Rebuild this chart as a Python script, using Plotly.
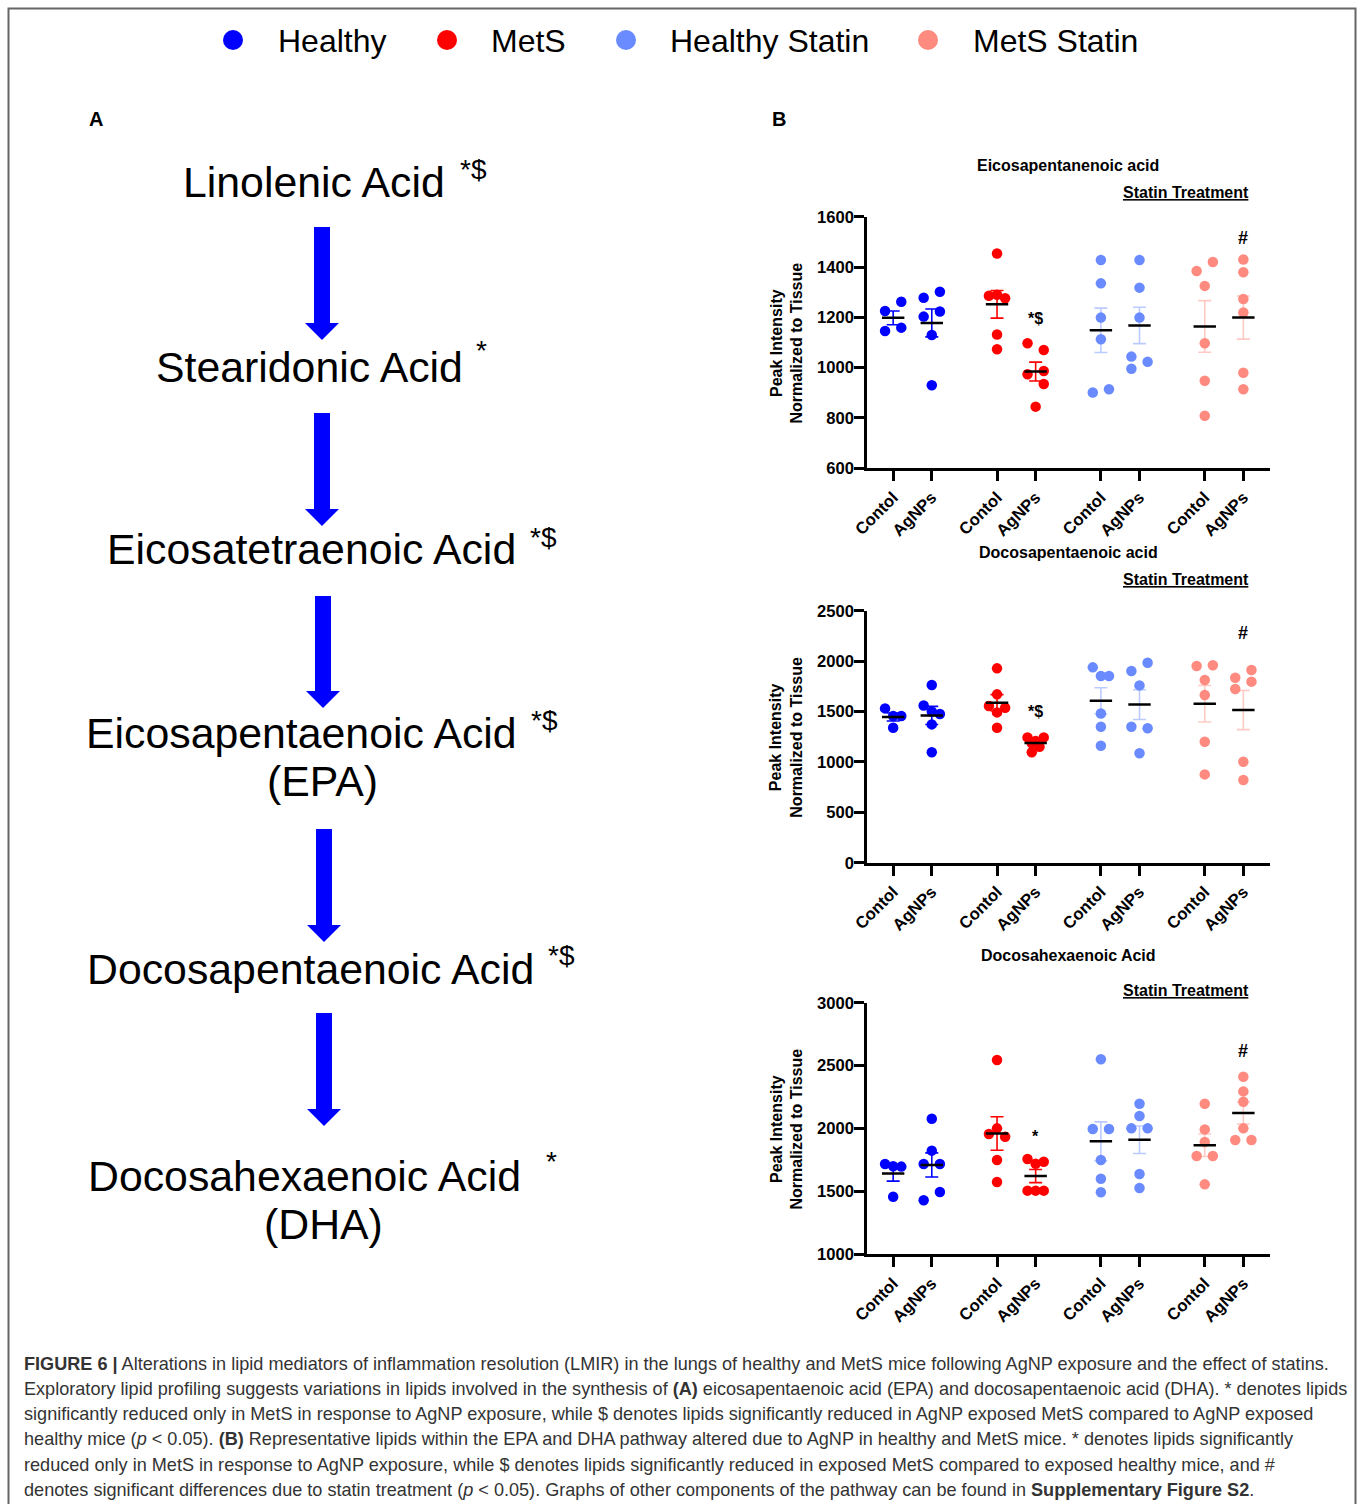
import numpy as np
import plotly.graph_objects as go

W, H = 1360, 1504
FONT = "Liberation Sans, Arial, sans-serif"

# ---------------- data ----------------
series_names = ["Healthy", "MetS", "Healthy Statin", "MetS Statin"]
series_colors = ["#0000FF", "#FF0000", "#6A8BFF", "#FF8A7F"]
errbar_colors = ["#0000FF", "#FF0000", "rgba(106,139,255,0.45)", "rgba(255,138,127,0.45)"]
group_series = [0, 0, 1, 1, 2, 2, 3, 3]
tick_labels = ["Contol", "AgNPs", "Contol", "AgNPs", "Contol", "AgNPs", "Contol", "AgNPs"]

epa_values = [
    [1225, 1262, 1146, 1159],
    [1278, 1302, 1203, 1223, 1130, 930],
    [1454, 1286, 1290, 1276, 1132, 1073],
    [1097, 1070, 987, 974, 935, 845],
    [1428, 1335, 1199, 1113, 901, 914],
    [1428, 1318, 1199, 1044, 996, 1023],
    [1384, 1420, 1325, 1097, 948, 809],
    [1430, 1379, 1273, 1219, 980, 914],
]
dpa_values = [
    [1531, 1455, 1455, 1339],
    [1763, 1560, 1500, 1475, 1372, 1095],
    [1928, 1670, 1554, 1538, 1491, 1339],
    [1243, 1243, 1207, 1184, 1151, 1095],
    [1938, 1852, 1852, 1481, 1349, 1161],
    [1901, 1984, 1759, 1349, 1333, 1085],
    [1951, 1958, 1812, 1663, 1200, 876],
    [1911, 1835, 1796, 1723, 1002, 820],
]
dha_values = [
    [1718, 1700, 1697, 1458],
    [2078, 1824, 1718, 1718, 1495, 1429],
    [2544, 2001, 1956, 1935, 1750, 1575],
    [1758, 1736, 1720, 1506, 1506, 1506],
    [2550, 1996, 1996, 1750, 1601, 1493],
    [2197, 2099, 2001, 2001, 1638, 1527],
    [2197, 1993, 1893, 1781, 1781, 1556],
    [2412, 2295, 2213, 2001, 1909, 1909],
]

# ---------------- positions / styles ----------------
group_x = [0, 1, 2.69, 3.69, 5.38, 6.38, 8.07, 9.07]
J = 0.21
epa_offsets = [
    [-J, J, -J, J],
    [-J, J, -J, J, 0, 0],
    [0, -J, 0, J, 0, 0],
    [-J, J, J, -J, J, 0],
    [0, 0, 0, 0, -J, J],
    [0, 0, 0, -J, -J, J],
    [-J, J, 0, 0, 0, 0],
    [0, 0, 0, 0, 0, 0],
]
dpa_offsets = [
    [-J, 0, J, 0],
    [0, -J, 0, J, 0, 0],
    [0, 0, -J, J, 0, 0],
    [-J, J, 0, -0.1, 0.1, -0.1],
    [-J, 0, J, 0, 0, 0],
    [-J, J, 0, -J, J, 0],
    [-J, J, 0, 0, 0, 0],
    [J, -J, J, -J, 0, 0],
]
dha_offsets = [
    [-J, 0, J, 0],
    [0, 0, -J, J, J, -J],
    [0, 0, -J, J, 0, 0],
    [-J, J, 0, -J, 0, J],
    [0, -J, J, 0, 0, 0],
    [0, 0, -J, J, 0, 0],
    [0, 0, 0, -J, J, 0],
    [0, 0, 0, 0, -J, J],
]


def px(x):
    return x / W


def py(y):
    return 1 - y / H


panels = [
    dict(title="Eicosapentanenoic acid", values=epa_values, offsets=epa_offsets,
         yrange=[600, 1600], dtick=200, top=216.7, bottom=468.3, title_y=165, statin_y=193,
         marks=[("#", 9.07, 1514, 18), ("*$", 3.69, 1196, 16)]),
    dict(title="Docosapentaenoic acid", values=dpa_values, offsets=dpa_offsets,
         yrange=[0, 2500], dtick=500, top=610.7, bottom=862.7, title_y=552, statin_y=579,
         marks=[("#", 9.07, 2275, 18), ("*$", 3.69, 1498, 16)]),
    dict(title="Docosahexaenoic Acid", values=dha_values, offsets=dha_offsets,
         yrange=[1000, 3000], dtick=500, top=1002.7, bottom=1254.3, title_y=956, statin_y=990,
         marks=[("#", 9.07, 2616, 18), ("*", 3.69, 1935, 16)]),
]

X_LEFT, X_RIGHT = 867.3, 1270
fig = go.Figure()
annotations = []
shapes = []
layout_axes = {}

for i, p in enumerate(panels):
    n = "" if i == 0 else str(i + 1)
    xa, ya = "x" + n, "y" + n
    # points
    for g in range(8):
        s = group_series[g]
        vals = np.array(p["values"][g], dtype=float)
        xs = group_x[g] + np.array(p["offsets"][g])
        fig.add_trace(go.Scatter(
            x=xs, y=vals, mode="markers", xaxis=xa, yaxis=ya,
            marker=dict(size=10.5, color=series_colors[s], line=dict(width=0)),
            name=series_names[s], showlegend=False, cliponaxis=False,
            hoverinfo="y"))
    # error bars and mean lines
    for g in range(8):
        s = group_series[g]
        vals = np.array(p["values"][g], dtype=float)
        m = vals.mean()
        sem = vals.std(ddof=1) / np.sqrt(len(vals))
        fig.add_trace(go.Scatter(
            x=[group_x[g]], y=[m], mode="markers", xaxis=xa, yaxis=ya,
            marker=dict(size=1, color="rgba(0,0,0,0)"),
            error_y=dict(type="data", array=[sem], color=errbar_colors[s],
                         thickness=1.6, width=6.5),
            showlegend=False, hoverinfo="skip"))
        fig.add_trace(go.Scatter(
            x=[group_x[g] - 0.29, group_x[g] + 0.29], y=[m, m], mode="lines",
            xaxis=xa, yaxis=ya, line=dict(color="black", width=2.5),
            showlegend=False, hoverinfo="skip"))
    axstyle = dict(showline=True, linewidth=3, linecolor="black", ticks="outside",
                   ticklen=10, tickwidth=3, tickcolor="black", showgrid=False,
                   zeroline=False, automargin=False,
                   tickfont=dict(family=FONT, size=16.6, color="black", weight="bold"))
    layout_axes["xaxis" + n] = dict(
        domain=[px(X_LEFT), px(X_RIGHT)], range=[-0.67, 9.76], anchor=ya,
        tickmode="array", tickvals=group_x, ticktext=tick_labels, tickangle=-45, **axstyle)
    layout_axes["yaxis" + n] = dict(
        domain=[py(p["bottom"]), py(p["top"])], range=p["yrange"], dtick=p["dtick"],
        tick0=p["yrange"][0], anchor=xa, ticklabelstandoff=-3, **axstyle)
    # titles
    annotations.append(dict(text="<b>" + p["title"] + "</b>", x=px(1068), y=py(p["title_y"]),
                            xref="paper", yref="paper", showarrow=False,
                            font=dict(family=FONT, size=16, color="black"),
                            xanchor="center", yanchor="middle"))
    annotations.append(dict(text="<b><u>Statin Treatment</u></b>", x=px(1186), y=py(p["statin_y"]),
                            xref="paper", yref="paper", showarrow=False,
                            font=dict(family=FONT, size=16, color="black"),
                            xanchor="center", yanchor="middle"))
    annotations.append(dict(text="<b>Peak Intensity<br>Normalized to Tissue</b>", textangle=-90,
                            x=px(786), y=py((p["top"] + p["bottom"]) / 2),
                            xref="paper", yref="paper", showarrow=False,
                            font=dict(family=FONT, size=16, color="black"),
                            xanchor="center", yanchor="middle"))
    for txt, mx, my, fs in p["marks"]:
        annotations.append(dict(text="<b>" + txt + "</b>", x=mx, y=my, xref=xa, yref=ya,
                                showarrow=False, font=dict(family=FONT, size=fs, color="black"),
                                xanchor="center", yanchor="middle"))

# ---------------- panel A (pathway diagram) ----------------
pathway_labels = [
    ("Linolenic Acid", 314, 182, "*$", 473, 170),
    ("Stearidonic Acid", 309, 367, "*", 481, 350),
    ("Eicosatetraenoic Acid", 311, 549, "*$", 543, 537),
    ("Eicosapentaenoic Acid", 301, 733, "*$", 544, 720),
    ("(EPA)", 322, 781, "", 0, 0),
    ("Docosapentaenoic Acid", 310, 969, "*$", 561, 956),
    ("Docosahexaenoic Acid", 304, 1176, "*", 551, 1161),
    ("(DHA)", 323, 1224, "", 0, 0),
]
for lab, lx, ly, st, sx, sy in pathway_labels:
    annotations.append(dict(text=lab, x=px(lx), y=py(ly), xref="paper", yref="paper",
                            showarrow=False, font=dict(family=FONT, size=42.8, color="black"),
                            xanchor="center", yanchor="middle"))
    if st:
        annotations.append(dict(text=st, x=px(sx), y=py(sy), xref="paper", yref="paper",
                                showarrow=False, font=dict(family=FONT, size=28, color="black"),
                                xanchor="center", yanchor="middle"))

arrow_pos = [(322, 227, 340), (322, 413, 526), (323, 596, 708), (324, 829, 942), (324, 1013, 1126)]
for ax_, y0, y1 in arrow_pos:
    hw_shaft, hw_head, head_len = 8, 17, 17
    pts = [(ax_ - hw_shaft, y0), (ax_ + hw_shaft, y0), (ax_ + hw_shaft, y1 - head_len),
           (ax_ + hw_head, y1 - head_len), (ax_, y1), (ax_ - hw_head, y1 - head_len),
           (ax_ - hw_shaft, y1 - head_len)]
    path = "M " + " L ".join(f"{px(a):.5f},{py(b):.5f}" for a, b in pts) + " Z"
    shapes.append(dict(type="path", path=path, xref="paper", yref="paper",
                       fillcolor="#0000FF", line=dict(width=0)))

# panel letters
for letter, lx, ly in [("A", 96, 119), ("B", 779, 119)]:
    annotations.append(dict(text="<b>" + letter + "</b>", x=px(lx), y=py(ly), xref="paper",
                            yref="paper", showarrow=False,
                            font=dict(family=FONT, size=20, color="black"),
                            xanchor="center", yanchor="middle"))

# ---------------- legend (top) ----------------
legend_pos = [(233, 279), (447, 492), (626, 671), (928, 974)]
for k, (mx, tx) in enumerate(legend_pos):
    shapes.append(dict(type="circle", xref="paper", yref="paper",
                       x0=px(mx - 10), x1=px(mx + 10), y0=py(50), y1=py(30),
                       fillcolor=series_colors[k], line=dict(width=0)))
    annotations.append(dict(text=series_names[k], x=px(tx - 3), y=py(41), xref="paper", yref="paper",
                            showarrow=False, font=dict(family=FONT, size=32, color="black"),
                            xanchor="left", yanchor="middle"))

# ---------------- frame ----------------
shapes.append(dict(type="rect", xref="paper", yref="paper", x0=px(8.5), x1=px(1355.5),
                   y0=py(1515), y1=py(8.5), line=dict(color="#666666", width=2),
                   fillcolor="rgba(0,0,0,0)", layer="below"))

# ---------------- caption ----------------
caption_lines = [
    "<b>FIGURE 6 |</b> Alterations in lipid mediators of inflammation resolution (LMIR) in the lungs of healthy and MetS mice following AgNP exposure and the effect of statins.",
    "Exploratory lipid profiling suggests variations in lipids involved in the synthesis of <b>(A)</b> eicosapentaenoic acid (EPA) and docosapentaenoic acid (DHA). * denotes lipids",
    "significantly reduced only in MetS in response to AgNP exposure, while $ denotes lipids significantly reduced in AgNP exposed MetS compared to AgNP exposed",
    "healthy mice (<i>p</i> &lt; 0.05). <b>(B)</b> Representative lipids within the EPA and DHA pathway altered due to AgNP in healthy and MetS mice. * denotes lipids significantly",
    "reduced only in MetS in response to AgNP exposure, while $ denotes lipids significantly reduced in exposed MetS compared to exposed healthy mice, and #",
    "denotes significant differences due to statin treatment (<i>p</i> &lt; 0.05). Graphs of other components of the pathway can be found in <b>Supplementary Figure S2</b>.",
]
caption_y = [1364, 1389, 1414, 1439, 1465, 1490]
for line, cy in zip(caption_lines, caption_y):
    annotations.append(dict(text=line, x=px(22), y=py(cy), xref="paper", yref="paper",
                            showarrow=False, font=dict(family=FONT, size=18.1, color="#333333"),
                            xanchor="left", yanchor="middle"))

fig.update_layout(
    width=W, height=H, margin=dict(l=0, r=0, t=0, b=0, autoexpand=False),
    paper_bgcolor="white", plot_bgcolor="white", showlegend=False,
    annotations=annotations, shapes=shapes, **layout_axes)

fig.write_html("out.html")
